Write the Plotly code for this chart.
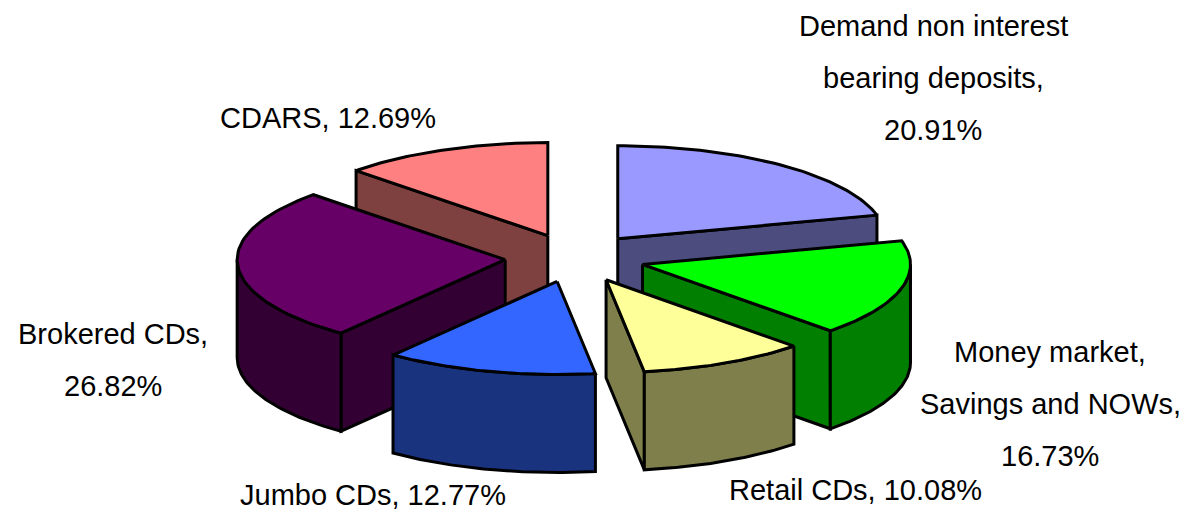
import numpy as np
import plotly.graph_objects as go

# Deposit mix, clockwise from 12 o'clock
categories = [
    "Demand non interest<br>bearing deposits",
    "Money market,<br>Savings and NOWs",
    "Retail CDs",
    "Jumbo CDs",
    "Brokered CDs",
    "CDARS",
]
shares = [20.91, 16.73, 10.08, 12.77, 26.82, 12.69]
pct_on_new_line = [True, True, False, False, True, False]

top_colors = ["#9999FF", "#00FF00", "#FFFF99", "#3366FF", "#660066", "#FF8080"]

# Drawing geometry (pixel-like units, y grows downward)
W, H = 1188, 515
CX, CY = 575, 258
RX, RY = 268, 93
DEPTH = 98
EXPLODE = 70

# Label anchors (centre of text block) and line spacing
label_pos = [(933, 78), (1050, 404), (855, 490), (373, 495), (113, 360), (328, 118)]
LINE_GAP = 52


def darker(hex_color, f=0.5):
    h = hex_color.lstrip("#")
    r, g, b = (int(h[i:i + 2], 16) for i in (0, 2, 4))
    return "#{:02X}{:02X}{:02X}".format(int(r * f), int(g * f), int(b * f))


def pt(theta, r, ox, oy, z=0.0):
    return ox + r * RX * np.sin(theta), oy - r * RY * np.cos(theta) + z


def arc(a, b, ox, oy, z=0.0, n=60):
    t = np.linspace(a, b, n)
    return list(ox + RX * np.sin(t)), list(oy - RY * np.cos(t) + z)


fig = go.Figure()


def poly(xs, ys, color):
    fig.add_trace(go.Scatter(
        x=list(xs) + [xs[0]], y=list(ys) + [ys[0]],
        mode="lines", fill="toself", fillcolor=color,
        line=dict(color="black", width=3), hoverinfo="skip",
        showlegend=False,
    ))


total = sum(shares)
bounds = np.concatenate([[0], np.cumsum(shares)]) / total * 2 * np.pi
slices = []
for i, v in enumerate(shares):
    a, b = bounds[i], bounds[i + 1]
    m = (a + b) / 2
    ox = CX + EXPLODE * np.sin(m)
    oy = CY - EXPLODE * (RY / RX) * np.cos(m)
    slices.append((i, a, b, m, ox, oy))

# back-to-front painter's order
slices.sort(key=lambda s: -np.cos(s[3]))

for i, a, b, m, ox, oy in slices:
    side = darker(top_colors[i])
    # radial walls facing the viewer
    for edge, normal in ((a, a - np.pi / 2), (b, b + np.pi / 2)):
        if np.cos(normal) < -1e-6:
            rx, ry = pt(edge, 1, ox, oy)
            poly([ox, rx, rx, ox], [oy, ry, ry + DEPTH, oy + DEPTH], side)
    # curved outer wall on the front half
    lo, hi = max(a, np.pi / 2), min(b, 3 * np.pi / 2)
    if hi > lo:
        tx, ty = arc(lo, hi, ox, oy)
        bx, by = arc(hi, lo, ox, oy, DEPTH)
        poly(tx + bx, ty + by, side)
    # top face
    tx, ty = arc(a, b, ox, oy)
    poly([ox] + tx, [oy] + ty, top_colors[i])

for i, name in enumerate(categories):
    sep = ",<br>" if pct_on_new_line[i] else ", "
    lines = f"{name}{sep}{shares[i]:.2f}%".split("<br>")
    x, y = label_pos[i]
    n = len(lines)
    for k, line in enumerate(lines):
        fig.add_annotation(
            x=x, y=y + (k - (n - 1) / 2) * LINE_GAP, xref="x", yref="y",
            text=line, showarrow=False,
            align="center", xanchor="center", yanchor="middle",
            font=dict(family="Liberation Sans Narrow, Arial Narrow, Liberation Sans, Arial",
                      size=29, color="black"),
        )

fig.update_xaxes(range=[0, W], visible=False, fixedrange=True)
fig.update_yaxes(range=[H, 0], visible=False, fixedrange=True)
fig.update_layout(
    width=W, height=H, margin=dict(l=0, r=0, t=0, b=0),
    paper_bgcolor="white", plot_bgcolor="white",
)

fig.write_html("out.html")
